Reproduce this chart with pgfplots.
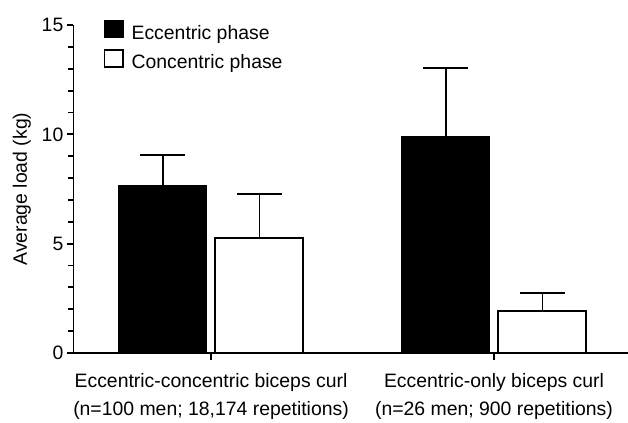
\documentclass[border=0pt]{standalone}
\usepackage{fontspec}
\setmainfont{Liberation Sans}
\usepackage{pgfplots}
\pgfplotsset{compat=1.18}
\begin{document}
\begin{tikzpicture}
\begin{axis}[
  scale only axis,
  width=554.5bp, height=328bp,
  xmin=-0.486, xmax=1.4735,
  ymin=0, ymax=15,
  axis x line*=bottom, axis y line*=left,
  axis line style={line width=1.9bp, black},
  tick style={line width=1.9bp, black},
  tick align=outside,
  major tick length=6.5bp, minor tick length=5bp,
  xtick={0,1},
  xticklabels={{Eccentric-concentric biceps curl\\(n=100 men; 18,174 repetitions)},{Eccentric-only biceps curl\\(n=26 men; 900 repetitions)}},
  xticklabel style={align=center, font=\fontsize{19.4bp}{28bp}\selectfont, inner sep=0pt, anchor=north, yshift=-14bp},
  ytick={0,5,10,15},
  minor y tick num=4,
  yticklabel style={font=\fontsize{19.4bp}{23bp}\selectfont, inner sep=0pt, xshift=-3.5bp},
  /pgf/number format/assume math mode=true,
  ylabel={Average load (kg)},
  every axis y label/.style={at={(axis description cs:-0.0839,0.5)}, rotate=90, anchor=base, font=\fontsize{19.4bp}{23bp}\selectfont},
  legend style={draw=none, fill=none, at={(axis description cs:0,1)}, anchor=north west, xshift=29.9bp, yshift=5.6bp, inner sep=0pt, row sep=5.8bp, font=\fontsize{19.4bp}{23bp}\selectfont, nodes={inner sep=0pt, text height=14bp, text depth=4bp}, /tikz/every odd column/.append style={column sep=8bp}},
  legend cell align=left,
  legend image code/.code={\draw[#1, line width=1.5bp] (0bp,-3bp) rectangle (18.5bp,14bp);},
  error bars/y dir=plus, error bars/y explicit,
  error bars/error mark=|,
  error bars/error bar style={line width=1.8bp, black},
  error bars/error mark options={mark size=22.5bp, line width=1.8bp, black},
]
\addplot[ybar, bar width=0.311, bar shift=0, fill=black, draw=black, line width=1.6bp]
  coordinates {(-0.171,7.64) += (0,1.41) (0.829,9.89) += (0,3.16)};
\addlegendentry{Eccentric phase}
\addplot[ybar, bar width=0.311, bar shift=0, fill=white, draw=black, line width=1.9bp]
  coordinates {(0.171,5.27) += (0,2.01) (1.171,1.91) += (0,0.82)};
\addlegendentry{Concentric phase}
\end{axis}
\pgfresetboundingbox
\path[use as bounding box] ([shift={(-73.5bp,-70bp)}]current axis.south west) rectangle ([shift={(0bp,25bp)}]current axis.north east);
\end{tikzpicture}
\end{document}
